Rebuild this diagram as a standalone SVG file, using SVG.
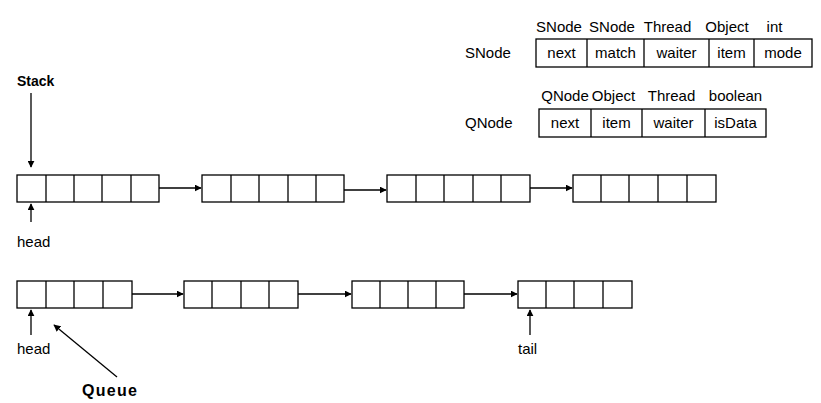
<svg xmlns="http://www.w3.org/2000/svg" width="821" height="403" viewBox="0 0 821 403">
<style>
.box{fill:#fff;stroke:#000;stroke-width:1.3}
.dv{stroke:#000;stroke-width:1.3}
.t{font-family:"Liberation Sans",Arial,sans-serif;font-size:15px;fill:#000}
.c{text-anchor:middle}
.b{font-weight:bold;font-size:14px}
.ln{stroke:#000;stroke-width:1.3;fill:none}
</style>
<defs>
<marker id="ah" viewBox="0 0 10 10" refX="9" refY="5" markerWidth="7" markerHeight="7" markerUnits="userSpaceOnUse" orient="auto">
<path d="M0,0 L10,5 L0,10 z" fill="#000"/>
</marker>
</defs>
<rect width="821" height="403" fill="#fff"/>

<g id="snode-def">
<text class="t" x="465" y="58">SNode</text>
<rect class="box" x="536" y="39" width="276" height="28"/>
<line class="dv" x1="587" y1="39" x2="587" y2="67"/>
<line class="dv" x1="644" y1="39" x2="644" y2="67"/>
<line class="dv" x1="709" y1="39" x2="709" y2="67"/>
<line class="dv" x1="754" y1="39" x2="754" y2="67"/>
<text class="t c" x="561.5" y="58">next</text>
<text class="t c" x="615.5" y="58">match</text>
<text class="t c" x="676.5" y="58">waiter</text>
<text class="t c" x="731.5" y="58">item</text>
<text class="t c" x="783" y="58">mode</text>
<text class="t c" x="559" y="32">SNode</text>
<text class="t c" x="612" y="32">SNode</text>
<text class="t c" x="667.5" y="32">Thread</text>
<text class="t c" x="727" y="32">Object</text>
<text class="t c" x="774.5" y="32">int</text>
</g>

<g id="qnode-def">
<text class="t" x="465" y="128">QNode</text>
<rect class="box" x="539" y="109" width="227" height="28"/>
<line class="dv" x1="591" y1="109" x2="591" y2="137"/>
<line class="dv" x1="642" y1="109" x2="642" y2="137"/>
<line class="dv" x1="705" y1="109" x2="705" y2="137"/>
<text class="t c" x="565" y="128">next</text>
<text class="t c" x="616.5" y="128">item</text>
<text class="t c" x="673.5" y="128">waiter</text>
<text class="t c" x="735.5" y="128">isData</text>
<text class="t c" x="565" y="101">QNode</text>
<text class="t c" x="613.5" y="101">Object</text>
<text class="t c" x="671.5" y="101">Thread</text>
<text class="t c" x="735.5" y="101">boolean</text>
</g>

<g id="stack-label"><text class="t b" x="17" y="86">Stack</text></g>
<g id="stack-head-label"><text class="t" x="17" y="247">head</text></g>

<g id="s1">
<rect class="box" x="17" y="175" width="142" height="27"/>
<line class="dv" x1="46" y1="175" x2="46" y2="202"/>
<line class="dv" x1="74" y1="175" x2="74" y2="202"/>
<line class="dv" x1="102" y1="175" x2="102" y2="202"/>
<line class="dv" x1="131" y1="175" x2="131" y2="202"/>
</g>
<g id="s2">
<rect class="box" x="202" y="175" width="142" height="27"/>
<line class="dv" x1="231" y1="175" x2="231" y2="202"/>
<line class="dv" x1="259" y1="175" x2="259" y2="202"/>
<line class="dv" x1="288" y1="175" x2="288" y2="202"/>
<line class="dv" x1="316" y1="175" x2="316" y2="202"/>
</g>
<g id="s3">
<rect class="box" x="387" y="175" width="143" height="27"/>
<line class="dv" x1="416" y1="175" x2="416" y2="202"/>
<line class="dv" x1="444" y1="175" x2="444" y2="202"/>
<line class="dv" x1="473" y1="175" x2="473" y2="202"/>
<line class="dv" x1="501" y1="175" x2="501" y2="202"/>
</g>
<g id="s4">
<rect class="box" x="573" y="175" width="143" height="27"/>
<line class="dv" x1="601" y1="175" x2="601" y2="202"/>
<line class="dv" x1="629" y1="175" x2="629" y2="202"/>
<line class="dv" x1="658" y1="175" x2="658" y2="202"/>
<line class="dv" x1="687" y1="175" x2="687" y2="202"/>
</g>

<g id="queue-label"><text class="t b" x="82" y="396" style="font-size:16px" textLength="55">Queue</text></g>
<g id="queue-head-label"><text class="t" x="17" y="354">head</text></g>
<g id="tail-label"><text class="t" x="518" y="354">tail</text></g>

<g id="q1">
<rect class="box" x="17" y="281" width="115" height="27"/>
<line class="dv" x1="46" y1="281" x2="46" y2="308"/>
<line class="dv" x1="74" y1="281" x2="74" y2="308"/>
<line class="dv" x1="103" y1="281" x2="103" y2="308"/>
</g>
<g id="q2">
<rect class="box" x="184" y="281" width="114" height="27"/>
<line class="dv" x1="212" y1="281" x2="212" y2="308"/>
<line class="dv" x1="241" y1="281" x2="241" y2="308"/>
<line class="dv" x1="269" y1="281" x2="269" y2="308"/>
</g>
<g id="q3">
<rect class="box" x="352" y="281" width="112" height="27"/>
<line class="dv" x1="380" y1="281" x2="380" y2="308"/>
<line class="dv" x1="408" y1="281" x2="408" y2="308"/>
<line class="dv" x1="436" y1="281" x2="436" y2="308"/>
</g>
<g id="q4">
<rect class="box" x="518" y="281" width="114" height="27"/>
<line class="dv" x1="546" y1="281" x2="546" y2="308"/>
<line class="dv" x1="574" y1="281" x2="574" y2="308"/>
<line class="dv" x1="603" y1="281" x2="603" y2="308"/>
</g>

<g id="connectors">
<line class="ln" x1="31" y1="93" x2="31" y2="167" marker-end="url(#ah)"/>
<line class="ln" x1="31" y1="222" x2="31" y2="204" marker-end="url(#ah)"/>
<line class="ln" x1="159" y1="188" x2="201" y2="188" marker-end="url(#ah)"/>
<line class="ln" x1="344" y1="190" x2="386" y2="190" marker-end="url(#ah)"/>
<line class="ln" x1="530" y1="188" x2="572" y2="188" marker-end="url(#ah)"/>
<line class="ln" x1="132" y1="294" x2="183" y2="294" marker-end="url(#ah)"/>
<line class="ln" x1="298" y1="294" x2="351" y2="294" marker-end="url(#ah)"/>
<line class="ln" x1="464" y1="294" x2="517" y2="294" marker-end="url(#ah)"/>
<line class="ln" x1="31" y1="335" x2="31" y2="310" marker-end="url(#ah)"/>
<line class="ln" x1="117" y1="377" x2="54" y2="325" marker-end="url(#ah)"/>
<line class="ln" x1="530" y1="335" x2="530" y2="310" marker-end="url(#ah)"/>
</g>
</svg>
